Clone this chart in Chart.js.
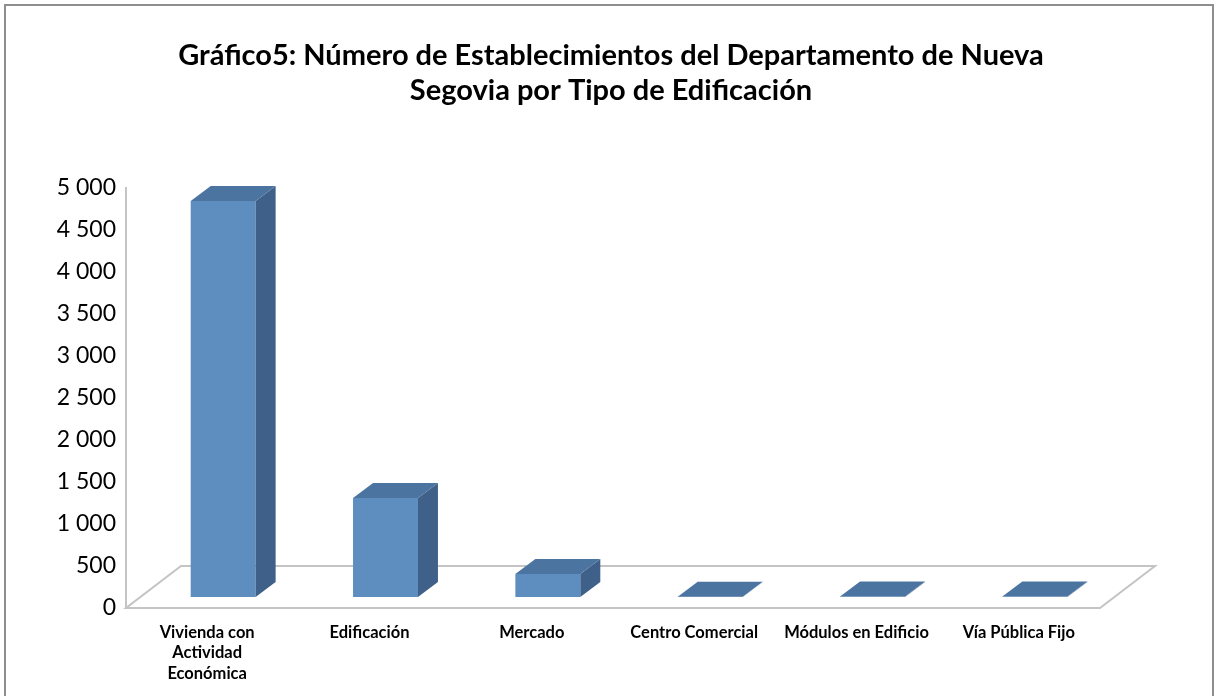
<!DOCTYPE html>
<html>
<head>
<meta charset="utf-8">
<script src="https://cdn.jsdelivr.net/npm/chart.js@4.4.1/dist/chart.umd.min.js"></script>
<style>
  html, body { margin: 0; padding: 0; background: #fff; }
  #wrap { width: 1218px; height: 696px; position: relative; }
</style>
</head>
<body>
<div id="wrap"><canvas id="chart" width="1218" height="696"></canvas></div>
<script>
  // data
  const categories = [
    ['Vivienda con', 'Actividad', 'Económica'],
    'Edificación',
    'Mercado',
    'Centro Comercial',
    'Módulos en Edificio',
    'Vía Pública Fijo'
  ];
  const establecimientos = [4715, 1180, 275, 4, 6, 5];
  const titleLines = [
    'Gráfico5: Número de Establecimientos del Departamento de Nueva',
    'Segovia por Tipo de Edificación'
  ];

  // 3d look
  const FLOOR = { dx: 55, dy: -42 };   // depth of the floor
  const FRONT = { dx: 16, dy: -11 };   // bar front face sits a bit back
  const DEPTH = { dx: 20, dy: -15 };   // bar depth
  const colFront = '#5e8dc0';
  const colTop = '#4c74a0';
  const colSide = '#3f6189';

  function fmt(v) {
    return String(v).replace(/\B(?=(\d{3})+(?!\d))/g, ' ');
  }

  // border + title (title centred on the whole frame, not the plot)
  const frame = {
    id: 'frame',
    beforeDraw(chart) {
      const ctx = chart.ctx;
      ctx.save();
      ctx.fillStyle = '#fff';
      ctx.fillRect(0, 0, chart.width, chart.height);
      ctx.strokeStyle = '#8e8e8e';
      ctx.lineWidth = 2;
      ctx.strokeRect(5, 5, 1208, 720);
      ctx.fillStyle = '#000';
      ctx.font = 'bold 29px Lato';
      ctx.textAlign = 'center';
      ctx.textBaseline = 'middle';
      titleLines.forEach((t, i) => ctx.fillText(t, 611, 56 + i * 35));
      ctx.restore();
    }
  };

  const bars3d = {
    id: 'bars3d',
    beforeDatasetsDraw(chart) {
      const ctx = chart.ctx;
      const a = chart.chartArea;
      const y0 = chart.scales.y.getPixelForValue(0);
      ctx.save();
      ctx.strokeStyle = '#c4c4c4';
      ctx.lineWidth = 2;
      ctx.beginPath();
      ctx.moveTo(a.left, y0);
      ctx.lineTo(a.right, y0);
      ctx.lineTo(a.right + FLOOR.dx, y0 + FLOOR.dy);
      ctx.lineTo(a.left + FLOOR.dx, y0 + FLOOR.dy);
      ctx.closePath();
      ctx.stroke();
      ctx.restore();
      ctx.save();
      ctx.translate(FRONT.dx, FRONT.dy);
    },
    afterDatasetsDraw(chart) {
      const ctx = chart.ctx;
      chart.getDatasetMeta(0).data.forEach(bar => {
        const p = bar.getProps(['x', 'y', 'width', 'base'], true);
        const l = p.x - p.width / 2, r = p.x + p.width / 2;
        // side
        ctx.fillStyle = colSide;
        ctx.beginPath();
        ctx.moveTo(r, p.y);
        ctx.lineTo(r + DEPTH.dx, p.y + DEPTH.dy);
        ctx.lineTo(r + DEPTH.dx, p.base + DEPTH.dy);
        ctx.lineTo(r, p.base);
        ctx.closePath();
        ctx.fill();
        // top
        ctx.fillStyle = colTop;
        ctx.beginPath();
        ctx.moveTo(l, p.y);
        ctx.lineTo(l + DEPTH.dx, p.y + DEPTH.dy);
        ctx.lineTo(r + DEPTH.dx, p.y + DEPTH.dy);
        ctx.lineTo(r, p.y);
        ctx.closePath();
        ctx.fill();
      });
      ctx.restore();
    }
  };

  new Chart(document.getElementById('chart'), {
    type: 'bar',
    data: {
      labels: categories,
      datasets: [{
        data: establecimientos,
        backgroundColor: colFront,
        borderWidth: 0,
        barPercentage: 0.8,
        categoryPercentage: 0.5,
        clip: false
      }]
    },
    options: {
      responsive: false,
      animation: false,
      layout: { padding: { left: 0, right: 118, top: 188, bottom: 0 } },
      plugins: {
        legend: { display: false },
        tooltip: { enabled: false },
        title: { display: false }
      },
      scales: {
        y: {
          min: 0,
          max: 5000,
          ticks: {
            stepSize: 500,
            color: '#000',
            padding: 10,
            font: { family: 'Lato', size: 23 },
            callback: v => fmt(v)
          },
          grid: { display: false, drawTicks: false },
          border: { display: true, color: '#c4c4c4', width: 2 },
          afterFit: s => { s.width = 126; }
        },
        x: {
          ticks: {
            color: '#000',
            padding: 14,
            maxRotation: 0,
            autoSkip: false,
            font: { family: 'Lato', size: 16.5, weight: 'bold', lineHeight: 1.25 }
          },
          grid: { display: false, drawTicks: false },
          border: { display: false },
          afterFit: s => { s.height = 88; }
        }
      }
    },
    plugins: [frame, bars3d]
  });
</script>
</body>
</html>
